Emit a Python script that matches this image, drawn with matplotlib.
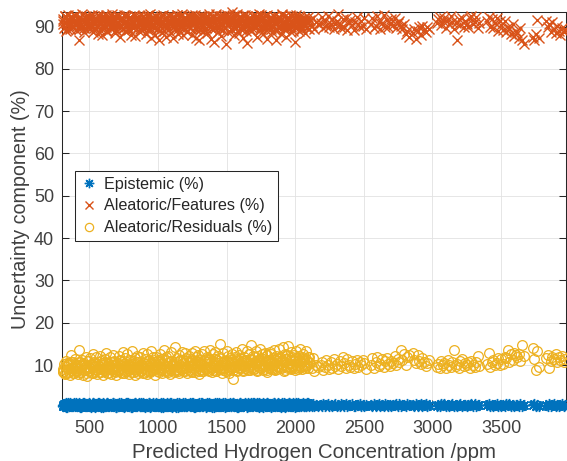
import matplotlib
matplotlib.use("Agg")
import matplotlib.pyplot as plt

plt.rcParams['font.family'] = ['Liberation Sans', 'DejaVu Sans']

# ---------------- data ----------------
x_dense = [
    305, 311, 316, 322, 329, 333, 340, 346, 351, 358, 363, 369, 375, 380, 387, 392, 398, 404, 409, 416,
    421, 427, 433, 438, 445, 450, 456, 462, 468, 473, 480, 485, 491, 497, 503, 508, 515, 520, 526, 532,
    538, 543, 550, 555, 561, 567, 573, 578, 585, 590, 596, 602, 608, 613, 620, 625, 631, 637, 643, 648,
    655, 660, 666, 672, 678, 683, 690, 695, 701, 707, 713, 718, 725, 730, 736, 742, 748, 753, 760, 765,
    771, 777, 783, 788, 795, 800, 806, 812, 818, 823, 830, 835, 841, 847, 853, 858, 865, 870, 876, 882,
    888, 893, 900, 905, 911, 917, 923, 928, 935, 940, 946, 952, 958, 963, 970, 975, 981, 987, 993, 998,
    1005, 1010, 1016, 1022, 1028, 1033, 1040, 1045, 1051, 1057, 1063, 1068, 1075, 1080, 1086, 1092, 1098, 1103, 1110, 1115,
    1121, 1127, 1133, 1138, 1145, 1150, 1156, 1162, 1168, 1173, 1180, 1185, 1191, 1197, 1203, 1208, 1215, 1220, 1226, 1232,
    1238, 1243, 1250, 1255, 1261, 1267, 1273, 1278, 1285, 1290, 1296, 1302, 1308, 1313, 1320, 1325, 1331, 1337, 1343, 1348,
    1355, 1360, 1366, 1372, 1378, 1383, 1390, 1395, 1401, 1407, 1413, 1418, 1425, 1430, 1436, 1442, 1448, 1453, 1460, 1465,
    1471, 1477, 1483, 1488, 1495, 1500, 1506, 1512, 1518, 1523, 1530, 1535, 1541, 1547, 1553, 1558, 1565, 1570, 1576, 1582,
    1588, 1593, 1600, 1605, 1611, 1617, 1623, 1628, 1635, 1640, 1646, 1652, 1658, 1663, 1670, 1675, 1681, 1687, 1693, 1698,
    1705, 1710, 1716, 1722, 1728, 1733, 1740, 1745, 1751, 1757, 1763, 1768, 1775, 1780, 1786, 1792, 1798, 1803, 1810, 1815,
    1821, 1827, 1833, 1838, 1845, 1850, 1856, 1862, 1868, 1873, 1880, 1885, 1891, 1897, 1903, 1908, 1915, 1920, 1926, 1932,
    1938, 1943, 1950, 1955, 1961, 1967, 1973, 1978, 1985, 1990, 1996, 2002, 2008, 2013, 2020, 2025, 2031, 2037, 2043, 2048,
    2055, 2060, 2066, 2072, 2078, 2083, 2090, 2095, 2100, 2104,
]

# second pass of samples in the dense range (the band is very crowded)
x_dense2 = [
    308, 319, 326, 337, 343, 355, 366, 372, 384, 395, 401, 412, 424, 430, 441, 448, 459, 465, 476, 488,
    494, 500, 511, 523, 529, 535, 546, 558, 564, 576, 582, 593, 599, 611, 617, 628, 634, 646, 652, 663,
    669, 675, 687, 693, 704, 710, 721, 728, 739, 745, 757, 762, 774, 780, 791, 797, 809, 815, 826, 833,
    838, 850, 856, 867, 873, 885, 891, 896, 908, 914, 926, 932, 943, 949, 961, 966, 978, 984, 990, 1002,
    1013, 1019, 1031, 1037, 1048, 1054, 1066, 1072, 1083, 1089, 1095, 1107, 1113, 1124, 1130, 1141, 1147, 1159, 1165, 1176,
    1183, 1188, 1200, 1206, 1217, 1223, 1235, 1241, 1247, 1258, 1264, 1276, 1281, 1293, 1299, 1305, 1316, 1322, 1334, 1340,
    1351, 1357, 1363, 1375, 1381, 1392, 1398, 1410, 1416, 1422, 1433, 1439, 1451, 1457, 1462, 1474, 1480, 1491, 1497, 1509,
    1515, 1521, 1532, 1538, 1550, 1556, 1562, 1573, 1579, 1591, 1597, 1608, 1614, 1620, 1631, 1637, 1649, 1655, 1667, 1672,
    1678, 1690, 1696, 1707, 1713, 1725, 1731, 1737, 1748, 1754, 1766, 1771, 1783, 1789, 1795, 1806, 1812, 1824, 1830, 1841,
    1847, 1853, 1865, 1871, 1882, 1888, 1894, 1906, 1912, 1923, 1929, 1941, 1947, 1952, 1964, 1970, 1981, 1987, 1999, 2005,
    2011, 2022, 2028, 2040, 2046, 2051, 2063, 2069, 2081, 2087,
]

features_dense = [
    90.5, 91.8, 89.6, 92.4, 90.9, 88.9, 91.5, 92.8, 90.2, 89.4, 91.9, 90.6, 92.2, 89.8, 91.1, 90.3, 92.6, 89.1, 91.4, 90.8,
    86.9, 92.1, 90.4, 89.7, 91.6, 92.9, 90.1, 88.6, 91.3, 92.5, 89.9, 91.0, 90.7, 92.3, 89.3, 91.7, 90.0, 92.7, 88.8, 91.2,
    90.6, 92.0, 89.5, 91.8, 88.2, 92.4, 90.9, 89.2, 91.5, 87.9, 92.6, 90.3, 89.7, 91.9, 92.8, 90.0, 88.7, 91.4, 92.2, 89.9,
    91.1, 90.4, 92.9, 89.6, 91.7, 90.2, 88.4, 92.3, 91.0, 89.8, 92.6, 90.7, 87.6, 91.5, 92.1, 89.4, 90.8, 92.7, 88.9, 91.3,
    90.1, 92.4, 89.2, 91.8, 90.6, 88.1, 92.0, 91.4, 89.7, 92.8, 90.3, 87.8, 91.6, 92.2, 89.9, 90.9, 92.5, 88.6, 91.2, 90.0,
    92.3, 89.5, 91.0, 90.7, 88.3, 92.6, 91.5, 89.1, 90.4, 92.9, 87.4, 91.8, 90.2, 92.1, 89.6, 91.3, 88.0, 92.4, 90.8, 89.3,
    91.7, 86.9, 92.0, 90.5, 88.8, 91.4, 92.7, 89.0, 90.1, 87.5, 92.3, 91.1, 89.8, 90.6, 92.5, 88.5, 91.9, 90.3, 87.2, 92.2,
    90.9, 89.4, 91.6, 92.8, 88.2, 90.7, 91.3, 89.9, 92.4, 90.0, 87.9, 91.8, 92.1, 89.3, 90.5, 91.7, 88.7, 92.6, 90.2, 89.6,
    91.4, 92.3, 88.1, 90.8, 91.9, 89.7, 92.7, 87.3, 90.4, 91.2, 92.0, 86.7, 89.5, 91.6, 90.1, 92.5, 88.9, 91.0, 89.2, 92.2,
    90.6, 88.4, 91.7, 92.9, 89.8, 87.1, 91.3, 90.2, 92.4, 86.3, 89.6, 91.8, 90.7, 92.1, 88.6, 91.1, 89.9, 92.6, 87.7, 90.4,
    91.5, 89.1, 92.3, 90.0, 85.9, 91.9, 92.7, 88.8, 90.5, 91.2, 89.4, 92.0, 93.4, 90.8, 87.9, 91.6, 92.4, 89.7, 90.3, 91.0,
    88.5, 92.2, 90.9, 89.3, 91.7, 92.8, 87.2, 90.6, 91.4, 89.0, 92.5, 86.1, 90.2, 91.8, 92.1, 88.9, 91.1, 89.6, 92.6, 90.4,
    91.3, 89.8, 92.4, 87.6, 90.7, 91.9, 92.9, 89.2, 90.0, 91.6, 88.3, 92.2, 90.5, 89.5, 91.2, 92.7, 87.0, 90.8, 91.7, 89.9,
    92.0, 90.3, 88.7, 91.5, 92.6, 89.1, 90.9, 86.8, 91.8, 92.3, 89.7, 90.1, 91.4, 88.2, 92.8, 90.6, 89.4, 91.1, 92.5, 87.5,
    90.2, 91.9, 89.6, 92.1, 90.7, 88.6, 91.3, 92.4, 89.0, 90.5, 86.4, 91.7, 92.7, 89.8, 90.9, 91.5, 88.9, 92.2, 90.1, 89.3,
    91.6, 90.4, 92.0, 88.4, 91.0, 89.7, 92.3, 90.8, 91.2, 89.5,
]

features_dense2 = [
    91.2, 90.0, 92.5, 89.3, 91.7, 90.8, 92.1, 89.9, 91.4, 92.7, 90.3, 91.0, 89.5, 92.3, 90.6, 91.8, 89.7, 92.0, 90.9, 91.5,
    89.8, 92.6, 90.4, 91.1, 92.2, 89.6, 91.3, 90.1, 92.8, 90.7, 91.9, 89.4, 92.4, 90.2, 91.6, 88.9, 92.0, 90.5, 91.2, 89.9,
    92.3, 90.8, 91.4, 89.2, 92.7, 90.3, 91.7, 90.0, 92.1, 89.7, 91.0, 92.5, 90.6, 91.8, 89.5, 92.2, 90.9, 91.3, 89.8, 92.6,
    90.4, 91.6, 92.0, 89.3, 91.1, 90.7, 92.4, 89.9, 91.5, 90.2, 92.8, 91.0, 89.6, 92.1, 90.5, 91.9, 90.0, 92.3, 89.4, 91.2,
    90.8, 92.6, 89.7, 91.4, 90.3, 92.0, 91.7, 89.2, 92.5, 90.6, 91.1, 89.9, 92.2, 90.1, 91.8, 92.7, 89.5, 91.3, 90.4, 92.9,
    90.9, 89.8, 92.1, 91.5, 90.2, 92.4, 89.6, 91.0, 92.8, 90.7, 91.6, 89.3, 92.3, 90.0, 91.9, 89.1, 92.6, 90.5, 91.2, 92.0,
    89.7, 91.4, 92.5, 90.3, 91.8, 89.5, 92.2, 90.8, 91.1, 92.9, 90.1, 91.6, 89.4, 92.4, 90.6, 91.3, 92.7, 89.8, 91.0, 90.4,
    92.1, 90.9, 91.7, 89.2, 92.6, 90.2, 91.4, 93.0, 90.7, 91.9, 89.6, 92.3, 90.0, 91.2, 92.8, 89.9, 91.5, 90.5, 92.0, 89.3,
    91.8, 90.3, 92.5, 89.7, 91.1, 92.2, 90.8, 91.6, 89.4, 92.7, 90.1, 91.3, 92.4, 89.8, 91.0, 90.6, 92.1, 89.5, 91.9, 90.4,
    92.6, 90.9, 91.4, 89.1, 92.3, 90.2, 91.7, 92.9, 90.0, 91.2, 89.6, 92.0, 90.7, 91.5, 92.8, 89.9, 91.1, 90.3, 92.2, 89.7,
    91.6, 90.5, 92.4, 89.4, 91.8, 90.8, 92.1, 90.1, 91.3, 89.8,
]

residuals_dense = [
    9.1, 8.4, 10.2, 7.8, 9.6, 11.0, 8.1, 9.9, 10.5, 7.6, 8.8, 12.3, 9.3, 10.8, 8.0, 9.5, 11.4, 8.6, 10.0, 7.9,
    13.6, 9.2, 10.7, 8.3, 9.8, 11.2, 7.7, 10.3, 8.9, 12.0, 9.0, 7.5, 10.9, 8.5, 11.6, 9.4, 10.1, 8.2, 12.5, 9.7,
    8.7, 10.4, 11.8, 7.9, 9.2, 10.6, 8.4, 12.2, 9.0, 11.1, 7.6, 10.0, 8.8, 11.5, 9.6, 12.8, 8.1, 10.2, 9.3, 11.9,
    7.8, 10.8, 9.4, 12.4, 8.5, 11.0, 9.9, 7.7, 10.5, 8.9, 12.1, 9.1, 11.3, 8.3, 10.7, 13.0, 9.6, 8.0, 11.7, 10.1,
    8.6, 12.6, 9.8, 7.9, 11.2, 10.3, 8.4, 13.2, 9.0, 10.9, 7.6, 11.6, 9.5, 12.2, 8.2, 10.6, 9.2, 11.9, 8.7, 10.0,
    12.9, 9.3, 8.1, 11.4, 10.2, 7.8, 12.5, 9.7, 11.1, 8.5, 10.4, 13.3, 8.9, 11.8, 9.4, 10.8, 7.7, 12.0, 9.9, 11.3,
    8.3, 10.7, 12.7, 9.1, 11.5, 8.0, 10.1, 13.5, 9.6, 11.9, 8.6, 10.5, 12.2, 9.2, 7.9, 11.0, 13.1, 9.8, 10.3, 8.4,
    14.3, 10.0, 8.8, 11.7, 9.5, 12.4, 8.2, 10.9, 9.0, 13.0, 11.2, 8.7, 10.4, 12.8, 9.3, 11.6, 8.1, 10.6, 12.1, 9.7,
    11.0, 8.5, 12.9, 9.9, 10.3, 13.4, 8.3, 11.8, 9.6, 12.3, 10.8, 7.8, 11.3, 9.1, 12.6, 10.1, 8.6, 13.2, 9.4, 11.5,
    10.2, 12.0, 8.9, 11.1, 13.6, 9.5, 10.7, 8.4, 12.5, 9.8, 11.4, 13.1, 8.7, 10.5, 12.2, 9.0, 11.7, 14.9, 10.0, 8.2,
    12.8, 9.3, 11.0, 10.4, 8.6, 13.3, 9.9, 12.1, 8.0, 11.6, 10.8, 9.2, 12.7, 6.8, 10.3, 11.9, 9.6, 13.0, 8.8, 11.2,
    10.1, 12.4, 9.4, 11.5, 13.7, 8.5, 10.9, 12.0, 9.7, 11.3, 10.6, 13.2, 8.9, 12.6, 9.8, 11.1, 14.8, 10.2, 12.2, 9.0,
    11.8, 10.4, 13.4, 8.7, 12.1, 9.5, 11.0, 13.8, 10.0, 12.5, 8.8, 11.4, 9.9, 12.9, 10.7, 8.3, 12.3, 11.2, 9.3, 13.1,
    10.6, 12.7, 9.1, 11.7, 13.5, 10.2, 8.9, 12.2, 11.0, 9.6, 13.9, 10.5, 12.0, 9.4, 11.3, 14.2, 10.8, 8.6, 12.6, 11.5,
    9.8, 12.4, 14.5, 10.3, 11.1, 9.2, 13.0, 11.8, 10.0, 12.3, 8.8, 11.6, 13.4, 10.7, 9.5, 12.1, 11.0, 13.7, 10.4, 9.1,
    12.5, 10.9, 11.4, 9.7, 13.2, 10.1, 11.8, 9.4, 12.0, 10.6,
]

residuals_dense2 = [
    8.6, 9.7, 8.0, 10.4, 9.0, 8.3, 10.8, 9.4, 8.1, 10.0, 9.2, 8.7, 10.6, 8.4, 9.8, 10.2, 8.9, 9.5, 8.2, 10.9,
    9.3, 8.5, 10.3, 9.9, 8.0, 10.7, 9.1, 8.8, 10.1, 9.6, 8.3, 10.5, 9.0, 8.6, 10.8, 9.4, 8.2, 10.2, 9.7, 8.9,
    10.6, 9.1, 8.4, 10.0, 9.5, 8.7, 10.9, 9.2, 8.1, 10.3, 9.8, 8.5, 10.7, 9.3, 8.8, 10.1, 9.6, 8.3, 10.4, 9.0,
    8.6, 10.8, 9.4, 8.9, 10.2, 9.7, 8.2, 10.5, 9.1, 8.7, 11.0, 9.5, 8.4, 10.6, 9.9, 8.8, 10.3, 9.2, 8.5, 10.9,
    9.6, 8.9, 10.4, 9.3, 8.6, 11.1, 9.8, 8.3, 10.7, 9.4, 8.8, 10.2, 9.9, 8.5, 10.8, 9.1, 8.7, 11.2, 9.6, 9.0,
    10.5, 9.3, 8.6, 11.0, 9.8, 8.9, 10.6, 9.5, 8.4, 11.3, 9.2, 8.8, 10.9, 9.7, 8.5, 10.4, 9.9, 8.7, 11.1, 9.4,
    9.0, 10.7, 9.6, 8.6, 11.4, 9.3, 8.9, 10.5, 9.8, 8.7, 11.2, 9.5, 9.1, 10.8, 9.9, 8.8, 11.0, 9.4, 8.6, 10.6,
    9.7, 9.0, 11.3, 9.5, 8.8, 10.9, 9.8, 8.7, 11.5, 9.6, 9.2, 10.7, 9.9, 8.9, 11.1, 9.4, 9.0, 10.5, 9.7, 8.8,
    11.4, 9.6, 9.1, 10.8, 9.9, 8.9, 11.2, 9.5, 9.3, 11.6, 9.8, 9.0, 10.9, 9.7, 8.8, 11.3, 9.6, 9.2, 11.0, 9.9,
    9.1, 11.5, 9.8, 9.0, 11.7, 9.5, 9.3, 11.1, 9.9, 8.9, 11.4, 9.7, 9.2, 11.8, 9.6, 9.0, 11.2, 9.8, 9.4, 11.6,
    9.9, 9.1, 11.3, 9.7, 9.5, 11.9, 9.8, 9.2, 11.5, 10.0,
]

epistemic_dense = [
    0.5, 0.2, 0.9, 0.4, 1.1, 0.1, 0.7, 0.5, 0.3, 1.0, 0.6, 0.2, 0.8, 0.4, 1.0, 0.3, 0.6, 0.9, 0.2, 0.7,
    0.4, 1.0, 0.1, 0.6, 0.8, 0.3, 1.1, 0.5, 0.2, 0.7, 0.9, 0.2, 0.6, 1.0, 0.4, 0.8, 0.1, 0.5, 1.0, 0.3,
    0.7, 0.1, 0.9, 0.5, 0.2, 1.1, 0.6, 0.3, 0.8, 0.4, 1.0, 0.1, 0.7, 0.5, 0.9, 0.2, 1.0, 0.4, 0.6, 0.8,
    0.3, 0.8, 0.5, 1.0, 0.2, 0.6, 0.9, 0.1, 0.7, 0.4, 1.1, 0.3, 0.5, 0.8, 0.2, 0.9, 0.6, 0.1, 0.7, 1.0,
    0.6, 0.3, 1.0, 0.2, 0.8, 0.5, 0.1, 0.9, 0.4, 0.7, 0.2, 1.1, 0.5, 0.3, 0.8, 0.6, 1.0, 0.2, 0.4, 0.9,
    0.4, 1.0, 0.2, 0.6, 0.9, 0.3, 0.7, 0.5, 1.1, 0.1, 0.8, 0.4, 0.6, 1.0, 0.2, 0.5, 0.9, 0.3, 0.7, 0.4,
    0.8, 0.2, 0.6, 1.0, 0.3, 0.7, 0.1, 0.9, 0.5, 0.4, 1.1, 0.2, 0.8, 0.6, 0.3, 1.0, 0.5, 0.1, 0.7, 0.9,
    0.5, 0.9, 0.3, 0.7, 0.1, 1.0, 0.6, 0.4, 0.8, 0.2, 0.5, 1.1, 0.3, 0.7, 0.9, 0.4, 0.2, 0.8, 0.6, 1.0,
    0.2, 0.7, 1.0, 0.4, 0.6, 0.1, 0.9, 0.5, 0.3, 0.8, 1.1, 0.4, 0.2, 0.6, 1.0, 0.7, 0.3, 0.5, 0.9, 0.1,
    0.6, 0.3, 0.8, 1.1, 0.2, 0.5, 0.9, 0.4, 0.7, 0.1, 1.0, 0.6, 0.3, 0.8, 0.5, 0.2, 1.1, 0.4, 0.7, 0.9,
    0.3, 1.0, 0.5, 0.1, 0.8, 0.6, 0.2, 0.9, 0.4, 1.1, 0.7, 0.3, 0.5, 1.0, 0.2, 0.8, 0.6, 0.4, 0.9, 0.1,
    0.7, 0.4, 1.1, 0.2, 0.6, 0.9, 0.3, 0.5, 1.0, 0.8, 0.1, 0.6, 0.4, 0.9, 0.3, 1.1, 0.5, 0.2, 0.7, 1.0,
    0.5, 0.8, 0.2, 1.0, 0.4, 0.7, 0.1, 0.9, 0.6, 0.3, 1.1, 0.5, 0.8, 0.2, 0.6, 1.0, 0.4, 0.7, 0.3, 0.9,
    0.4, 0.1, 0.9, 0.6, 1.1, 0.3, 0.7, 0.5, 0.2, 1.0, 0.8, 0.4, 0.6, 0.1, 0.9, 0.5, 1.0, 0.3, 0.7, 0.2,
    0.8, 0.5, 0.3, 1.0, 0.6, 0.2, 0.9, 0.4, 1.1, 0.7, 0.1, 0.6, 1.0, 0.3, 0.8, 0.5, 0.2, 0.9, 0.4, 0.7,
    0.6, 1.0, 0.3, 0.8, 0.2, 0.7, 0.5, 1.1, 0.4, 0.9,
]

epistemic_dense2 = [
    0.3, 0.8, 0.6, 0.1, 1.0, 0.4, 0.7, 0.2, 0.9, 0.5, 1.1, 0.3, 0.6, 0.8, 0.1, 0.4, 1.0, 0.7, 0.2, 0.5,
    0.9, 0.3, 0.6, 1.1, 0.4, 0.8, 0.2, 0.5, 1.0, 0.7, 0.1, 0.6, 0.9, 0.3, 0.4, 1.0, 0.8, 0.2, 0.6, 0.5,
    1.1, 0.4, 0.7, 0.1, 0.9, 0.3, 0.6, 1.0, 0.5, 0.2, 0.8, 0.4, 1.1, 0.6, 0.3, 0.9, 0.1, 0.7, 0.5, 1.0,
    0.2, 0.6, 0.8, 0.4, 1.1, 0.3, 0.5, 0.9, 0.1, 0.7, 0.4, 1.0, 0.6, 0.2, 0.8, 0.5, 0.3, 1.1, 0.7, 0.4,
    0.9, 0.1, 0.6, 1.0, 0.3, 0.8, 0.5, 0.2, 0.7, 1.1, 0.4, 0.6, 0.9, 0.3, 0.1, 1.0, 0.5, 0.8, 0.2, 0.6,
    0.7, 0.4, 1.1, 0.2, 0.9, 0.5, 0.3, 0.8, 0.6, 1.0, 0.1, 0.4, 0.7, 0.9, 0.3, 0.5, 1.1, 0.2, 0.6, 0.8,
    0.4, 1.0, 0.6, 0.3, 0.8, 0.1, 0.9, 0.5, 0.7, 0.2, 1.1, 0.4, 0.6, 0.9, 0.3, 0.8, 0.5, 1.0, 0.2, 0.7,
    0.5, 0.9, 0.2, 0.7, 1.0, 0.4, 0.6, 0.1, 0.8, 0.3, 1.1, 0.5, 0.7, 0.2, 0.9, 0.6, 0.4, 1.0, 0.3, 0.8,
    0.6, 0.2, 1.0, 0.5, 0.8, 0.3, 0.7, 1.1, 0.4, 0.9, 0.1, 0.6, 0.8, 0.3, 1.0, 0.5, 0.7, 0.2, 0.9, 0.4,
    1.1, 0.3, 0.7, 0.5, 0.9, 0.2, 0.6, 1.0, 0.4, 0.8, 0.1, 0.7, 0.5, 1.1, 0.3, 0.9, 0.6, 0.2, 0.8, 0.4,
    0.7, 1.0, 0.3, 0.6, 0.9, 0.5, 0.2, 0.8, 0.4, 1.0,
]

x_sparse = [
    2110, 2122, 2131, 2140, 2152, 2163,
    2185, 2196, 2204, 2215, 2226, 2238, 2247, 2259, 2270, 2281, 2290,
    2302, 2313, 2325, 2336, 2348, 2357, 2369, 2380, 2392,
    2403, 2415, 2426, 2437, 2449, 2460, 2471, 2483, 2494, 2505, 2518,
    2552, 2563, 2575, 2586, 2598, 2609, 2621, 2632, 2644, 2655, 2667, 2679, 2690,
    2702, 2713, 2725, 2736, 2748, 2759, 2770, 2782, 2793, 2805, 2817, 2828,
    2858, 2869, 2881, 2893, 2904, 2916, 2927, 2939, 2950, 2962, 2973,
    3030, 3041, 3053, 3064, 3076, 3088, 3099, 3111, 3122, 3134,
    3146, 3157, 3169, 3180, 3192, 3204, 3215, 3227, 3238,
    3250, 3262, 3273, 3285, 3296, 3308, 3320, 3331, 3343,
    3398, 3410, 3421, 3433, 3445, 3456, 3468, 3480, 3491,
    3503, 3514, 3526, 3538, 3549, 3561, 3572, 3584, 3596, 3607,
    3619, 3630, 3642, 3654, 3665,
    3730, 3742, 3754, 3766, 3778,
    3828, 3840, 3851, 3863, 3875, 3886, 3898, 3910, 3921, 3933, 3945, 3956, 3968,
]

features_sparse = [
    91.5, 90.2, 92.0, 89.4, 91.1, 90.6,
    90.8, 92.3, 89.7, 91.4, 90.1, 92.6, 89.9, 90.7, 91.8, 89.3, 90.5,
    91.2, 92.9, 90.4, 89.6, 91.7, 90.0, 92.1, 89.2, 90.9,
    91.6, 90.3, 89.1, 91.0, 92.2, 90.6, 89.8, 91.3, 90.1, 92.0, 89.5,
    90.7, 91.9, 89.7, 90.2, 92.4, 91.1, 89.4, 90.8, 92.7, 90.0, 91.5, 89.9, 90.6,
    91.8, 90.3, 92.1, 89.6, 90.9, 91.4, 90.1, 89.3, 90.5, 88.2, 89.0, 87.6,
    88.4, 89.5, 87.1, 88.9, 89.8, 88.0, 90.2, 89.1, 88.6, 90.0, 89.4,
    90.8, 91.7, 92.3, 90.4, 91.2, 92.0, 89.7, 91.5, 90.6, 92.4,
    91.0, 89.5, 90.9, 86.8, 91.8, 90.3, 92.1, 89.9, 91.3,
    90.5, 89.8, 91.9, 92.4, 90.7, 91.1, 92.2, 89.6, 90.9,
    91.4, 92.3, 90.0, 91.7, 89.7, 90.8, 92.0, 88.9, 91.2,
    90.4, 89.1, 91.3, 88.6, 90.0, 89.5, 88.2, 90.7, 87.8, 89.0,
    88.5, 87.4, 89.6, 86.9, 85.8,
    87.6, 86.8, 88.2, 91.6, 87.2,
    91.2, 89.8, 90.5, 88.7, 91.0, 89.3, 88.4, 90.2, 89.0, 88.1, 89.6, 88.8, 89.4,
]

residuals_sparse = [
    10.4, 9.2, 11.6, 8.7, 10.0, 9.6,
    9.9, 10.8, 8.9, 9.5, 11.2, 10.1, 9.0, 10.6, 9.4, 11.4, 9.7,
    10.3, 9.1, 11.0, 9.8, 11.8, 10.5, 9.3, 11.5, 10.0,
    9.6, 10.9, 9.2, 10.2, 11.3, 9.5, 10.7, 9.9, 11.1, 10.4, 9.0,
    10.0, 11.7, 9.4, 10.6, 11.9, 9.8, 10.3, 11.4, 9.6, 10.9, 11.6, 10.2, 9.7,
    11.0, 10.4, 12.1, 9.9, 11.5, 10.8, 13.5, 11.2, 12.6, 10.1, 11.8, 12.4,
    12.8, 11.3, 10.5, 12.3, 11.0, 10.2, 11.7, 10.8, 9.7, 10.4, 11.2,
    9.6, 10.3, 9.2, 10.9, 9.9, 10.5, 9.4, 11.2, 10.0, 9.5,
    10.7, 13.5, 9.8, 10.2, 9.3, 10.9, 11.4, 9.7, 10.4,
    9.9, 10.6, 9.4, 11.0, 10.1, 9.6, 10.8, 12.2, 9.8,
    10.3, 12.8, 9.5, 10.7, 11.3, 9.9, 10.5, 11.6, 10.0,
    11.4, 10.2, 12.0, 11.7, 13.5, 10.8, 12.5, 11.1, 12.9, 12.4,
    11.8, 12.6, 10.9, 14.7, 12.2,
    14.0, 11.5, 8.8, 13.2, 9.6,
    11.6, 12.3, 9.3, 11.0, 12.0, 11.4, 12.7, 10.8, 11.9, 11.2, 12.2, 10.6, 11.5,
]

epistemic_sparse = [
    0.5, 0.3, 0.7, 0.4, 0.6, 0.3,
    0.6, 0.4, 0.8, 0.3, 0.5, 0.7, 0.4, 0.6, 0.3, 0.5, 0.7,
    0.4, 0.6, 0.3, 0.7, 0.5, 0.4, 0.8, 0.3, 0.6,
    0.5, 0.7, 0.4, 0.3, 0.6, 0.5, 0.8, 0.4, 0.6, 0.3, 0.5,
    0.6, 0.4, 0.7, 0.3, 0.5, 0.8, 0.4, 0.6, 0.3, 0.7, 0.5, 0.4, 0.6,
    0.3, 0.6, 0.5, 0.7, 0.4, 0.8, 0.3, 0.5, 0.6, 0.4, 0.7, 0.5,
    0.5, 0.3, 0.7, 0.4, 0.6, 0.8, 0.3, 0.5, 0.7, 0.4, 0.6,
    0.4, 0.6, 0.3, 0.7, 0.5, 0.8, 0.4, 0.6, 0.3, 0.5,
    0.7, 0.4, 0.6, 0.3, 0.5, 0.8, 0.4, 0.6, 0.5,
    0.3, 0.6, 0.5, 0.7, 0.4, 0.8, 0.3, 0.5, 0.6,
    0.5, 0.7, 0.4, 0.6, 0.3, 0.5, 0.8, 0.4, 0.6,
    0.4, 0.6, 0.3, 0.7, 0.5, 0.8, 0.4, 0.6, 0.3, 0.5,
    0.6, 0.4, 0.7, 0.3, 0.5,
    0.5, 0.7, 0.4, 0.6, 0.3,
    0.6, 0.4, 0.7, 0.3, 0.5, 0.8, 0.4, 0.6, 0.3, 0.5, 0.7, 0.4, 0.6,
]

series_labels = ["Epistemic (%)", "Aleatoric/Features (%)", "Aleatoric/Residuals (%)"]
x_ticks = [500, 1000, 1500, 2000, 2500, 3000, 3500]
y_ticks = [10, 20, 30, 40, 50, 60, 70, 80, 90]

x_all = x_dense + x_dense2 + x_sparse
epi_all = epistemic_dense + epistemic_dense2 + epistemic_sparse
feat_all = features_dense + features_dense2 + features_sparse
res_all = residuals_dense + residuals_dense2 + residuals_sparse

# ---------------- plot ----------------
TXT = '#404040'
fig = plt.figure(figsize=(5.67, 4.61), dpi=100)
ax = fig.add_axes([0.1099, 0.1171, 0.8884, 0.8575])

c_blue, c_orange, c_yellow = '#0072BD', '#D95319', '#EDB120'
ax.plot(x_all, epi_all, linestyle='none', marker=(8, 2, 0), markersize=8,
        markeredgewidth=1.0, color=c_blue, label=series_labels[0], clip_on=False, zorder=3)
ax.plot(x_all, feat_all, linestyle='none', marker='x', markersize=6.5,
        markeredgewidth=1.0, color=c_orange, label=series_labels[1], clip_on=False, zorder=3)
ax.plot(x_all, res_all, linestyle='none', marker='o', markersize=7,
        markeredgewidth=0.9, markerfacecolor='none', color=c_yellow,
        label=series_labels[2], clip_on=False, zorder=3)

ax.set_xlim(303, 3974)
ax.set_ylim(0.07, 93.5)
ax.set_xticks(x_ticks)
ax.set_yticks(y_ticks)
ax.grid(True, color='#e2e2e2', linewidth=0.6)
ax.set_axisbelow(True)

for s in ax.spines.values():
    s.set_color('#262626')
    s.set_linewidth(0.75)
ax.spines['bottom'].set_visible(False)

ax.tick_params(axis='both', direction='in', length=5, width=0.75, color='#262626',
               labelcolor=TXT, labelsize=13, top=True, right=True)
ax.tick_params(axis='x', pad=9)
ax.tick_params(axis='y', pad=6)

ax.set_xlabel('Predicted Hydrogen Concentration /ppm', fontsize=14.7, color=TXT, labelpad=5)
ax.set_ylabel('Uncertainty component (%)', fontsize=14.2, color=TXT, labelpad=3)

leg = ax.legend(loc='upper left', bbox_to_anchor=(0.025, 0.597), fontsize=11.6,
                fancybox=False, framealpha=1, edgecolor='#262626', handlelength=1.0,
                handletextpad=0.45, borderpad=0.35, labelspacing=0.42, borderaxespad=0,
                markerscale=0.85)
leg.get_frame().set_linewidth(0.75)
for t in leg.get_texts():
    t.set_color('#262626')

fig.savefig('out.png', dpi=100)
